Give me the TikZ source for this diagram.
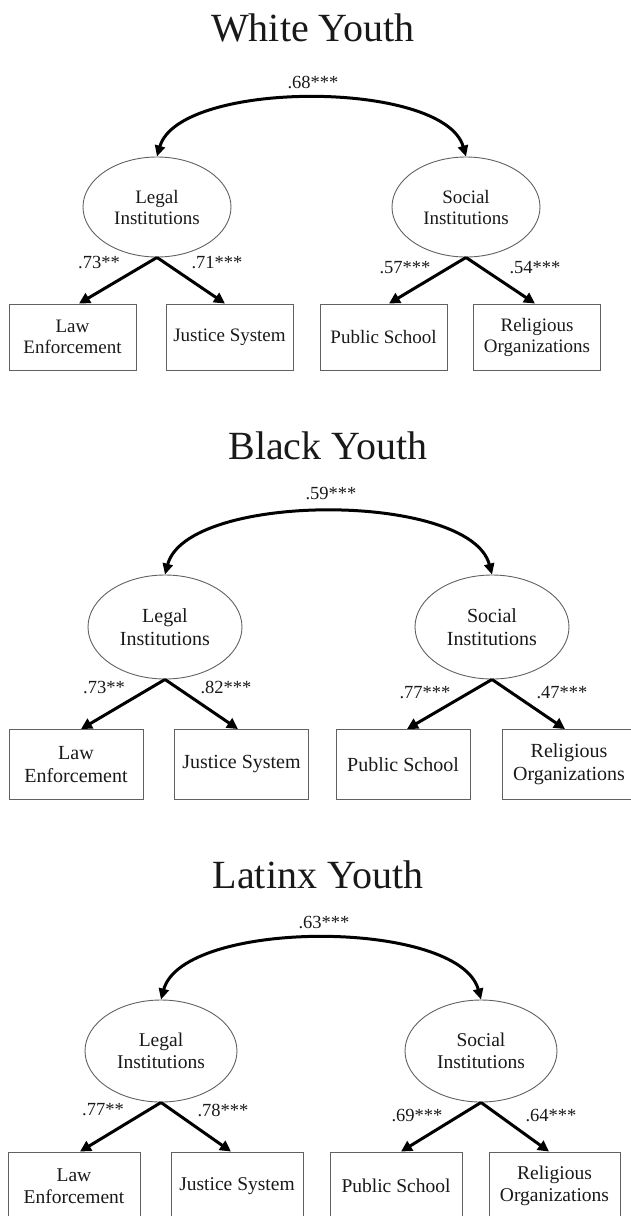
\documentclass[tikz,border=0pt]{standalone}
\usepackage{fontspec}
\setmainfont{Liberation Serif}
\usetikzlibrary{arrows.meta,shapes.geometric}
\begin{document}
\begin{tikzpicture}[x=1pt,y=-1pt,
  latent/.style={ellipse,draw=black!62,line width=0.9pt,align=center,inner sep=0pt},
  indic/.style={rectangle,draw=black!62,line width=0.9pt,align=center,inner sep=0pt},
  heading/.style={font=\fontsize{40}{48}\selectfont,anchor=base,text=black!90},
  coef/.style={font=\fontsize{18.5}{20}\selectfont,text=black!90},
  pone/.style={font=\fontsize{19}{21}\selectfont,text=black!90},
  ptwo/.style={font=\fontsize{20}{23}\selectfont,text=black!90},
  pthree/.style={font=\fontsize{19.5}{22}\selectfont,text=black!90},
  load/.style={line width=3pt,-{Triangle[length=11pt,width=11pt]}},
  cov/.style={line width=3pt,{Triangle[length=11pt,width=10pt]}-{Triangle[length=11pt,width=10pt]}},
]
\useasboundingbox (0,0) rectangle (631,1216);
\clip (0,0) rectangle (631,1216);

% ---------- White Youth ----------
\node[heading] (t1) at (313,41) {White Youth};
\node[latent,pone,minimum width=148pt,minimum height=100pt] (legal1) at (157,207) {Legal\\Institutions};
\node[latent,pone,minimum width=148pt,minimum height=100pt] (social1) at (466,207) {Social\\Institutions};
\node[indic,pone,minimum width=127pt,minimum height=66pt] (law1) at (72.5,337) {Law\\Enforcement};
\node[indic,pone,minimum width=127pt,minimum height=66pt] (just1) at (229.5,337) {Justice System};
\node[indic,pone,minimum width=127pt,minimum height=66pt] (pub1) at (383.5,337) {Public School};
\node[indic,pone,minimum width=127pt,minimum height=66pt] (rel1) at (537,337) {Religious\\Organizations};
\node[coef] (c1) at (313,82) {.68***};
\node[coef] (a1) at (99,263) {.73**};
\node[coef] (b1) at (217,263) {.71***};
\node[coef] (d1) at (405,268) {.57***};
\node[coef] (e1) at (535,268) {.54***};
\draw[cov] (legal1.north) .. controls +(22,-77) and +(-22,-77) .. (social1.north);
\draw[load] (legal1.south) -- ([xshift=6.5pt]law1.north);
\draw[load] (legal1.south) -- ([xshift=-4.5pt]just1.north);
\draw[load] (social1.south) -- ([xshift=5.5pt]pub1.north);
\draw[load] (social1.south) -- ([xshift=-2pt]rel1.north);

% ---------- Black Youth ----------
\node[heading] (t2) at (328,459) {Black Youth};
\node[latent,ptwo,minimum width=154pt,minimum height=104pt] (legal2) at (165,627) {Legal\\Institutions};
\node[latent,ptwo,minimum width=154pt,minimum height=104pt] (social2) at (492,627) {Social\\Institutions};
\node[indic,ptwo,minimum width=134pt,minimum height=70pt] (law2) at (76,764.5) {Law\\Enforcement};
\node[indic,ptwo,minimum width=134pt,minimum height=70pt] (just2) at (241.5,764.5) {Justice System};
\node[indic,ptwo,minimum width=134pt,minimum height=70pt] (pub2) at (403,764.5) {Public School};
\node[indic,ptwo,minimum width=134pt,minimum height=70pt] (rel2) at (569,764.5) {Religious\\Organizations};
\node[coef] (c2) at (331,493) {.59***};
\node[coef] (a2) at (104,687) {.73**};
\node[coef] (b2) at (226,687) {.82***};
\node[coef] (d2) at (425,693) {.77***};
\node[coef] (e2) at (562,693) {.47***};
\draw[cov] (legal2.north) .. controls +(22,-83) and +(-22,-83) .. (social2.north);
\draw[load] (legal2.south) -- ([xshift=5pt]law2.north);
\draw[load] (legal2.south) -- ([xshift=-3.5pt]just2.north);
\draw[load] (social2.south) -- ([xshift=4pt]pub2.north);
\draw[load] (social2.south) -- ([xshift=-4pt]rel2.north);

% ---------- Latinx Youth ----------
\node[heading] (t3) at (318,888) {Latinx Youth};
\node[latent,pthree,minimum width=152pt,minimum height=102pt] (legal3) at (161,1051) {Legal\\Institutions};
\node[latent,pthree,minimum width=152pt,minimum height=102pt] (social3) at (481,1051) {Social\\Institutions};
\node[indic,pthree,minimum width=132pt,minimum height=68pt] (law3) at (74,1186) {Law\\Enforcement};
\node[indic,pthree,minimum width=132pt,minimum height=68pt] (just3) at (237,1186) {Justice System};
\node[indic,pthree,minimum width=132pt,minimum height=68pt] (pub3) at (396,1186) {Public School};
\node[indic,pthree,minimum width=131pt,minimum height=68pt] (rel3) at (554.5,1186) {Religious\\Organizations};
\node[coef] (c3) at (324,922) {.63***};
\node[coef] (a3) at (103,1110) {.77**};
\node[coef] (b3) at (223,1110) {.78***};
\node[coef] (d3) at (417,1115) {.69***};
\node[coef] (e3) at (551,1115) {.64***};
\draw[cov] (legal3.north) .. controls +(22,-81) and +(-22,-81) .. (social3.north);
\draw[load] (legal3.south) -- ([xshift=6pt]law3.north);
\draw[load] (legal3.south) -- ([xshift=-6pt]just3.north);
\draw[load] (social3.south) -- ([xshift=5pt]pub3.north);
\draw[load] (social3.south) -- ([xshift=-5.5pt]rel3.north);
\end{tikzpicture}
\end{document}
